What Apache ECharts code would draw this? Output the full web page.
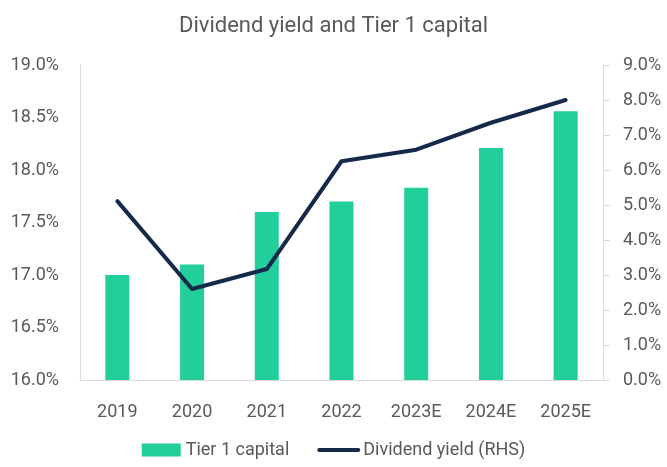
<!DOCTYPE html>
<html>
<head>
<meta charset="utf-8">
<script src="https://cdn.jsdelivr.net/npm/echarts@6/dist/echarts.min.js"></script>
<style>
  html, body { margin: 0; padding: 0; background: #fff; }
  #chart { width: 667px; height: 467px; }
</style>
</head>
<body>
<div id="chart"></div>
<script>
// data
const categories = ['2019', '2020', '2021', '2022', '2023E', '2024E', '2025E']
const tier1Capital = [17.0, 17.1, 17.6, 17.7, 17.83, 18.21, 18.56]
const dividendYield = [5.11, 2.6, 3.17, 6.25, 6.58, 7.35, 8.0]

const textColor = '#595959'
const axisColor = '#d9d9d9'
const font = 'Roboto, "Noto Sans", sans-serif'

const chart = echarts.init(document.getElementById('chart'))

const pct = v => v.toFixed(1) + '%'

chart.setOption({
  animation: false,
  backgroundColor: '#ffffff',
  textStyle: { fontFamily: font },
  title: {
    text: 'Dividend yield and Tier 1 capital',
    left: 'center',
    top: 10,
    textStyle: { color: textColor, fontSize: 22, fontWeight: 'normal', fontFamily: font }
  },
  grid: { left: 80, right: 64, top: 65, bottom: 87 },
  legend: {
    bottom: 3,
    left: 'center',
    itemWidth: 39,
    itemHeight: 13,
    itemGap: 28,
    textStyle: { color: textColor, fontSize: 18 },
    data: [
      { name: 'Tier 1 capital', icon: 'rect' },
      {
        name: 'Dividend yield (RHS)',
        itemStyle: { opacity: 0 },
        lineStyle: { width: 4, color: '#15294b', cap: 'round' }
      }
    ]
  },
  xAxis: {
    type: 'category',
    data: categories,
    axisLine: { show: true, lineStyle: { color: axisColor, width: 1 } },
    axisTick: { show: false },
    axisLabel: { color: textColor, fontSize: 18, margin: 23 }
  },
  yAxis: [
    {
      type: 'value',
      min: 16,
      max: 19,
      interval: 0.5,
      axisLine: { show: true, lineStyle: { color: axisColor } },
      axisTick: { show: false },
      splitLine: { show: false },
      axisLabel: { color: textColor, fontSize: 18, margin: 21, formatter: pct }
    },
    {
      type: 'value',
      min: 0,
      max: 9,
      interval: 1,
      position: 'right',
      axisLine: { show: true, lineStyle: { color: axisColor } },
      axisTick: { show: true, length: 7, lineStyle: { color: axisColor } },
      splitLine: { show: false },
      axisLabel: { color: textColor, fontSize: 18, margin: 20, formatter: pct }
    }
  ],
  series: [
    {
      name: 'Tier 1 capital',
      type: 'bar',
      data: tier1Capital,
      barWidth: 24,
      itemStyle: { color: '#22ce99' }
    },
    {
      name: 'Dividend yield (RHS)',
      type: 'line',
      yAxisIndex: 1,
      data: dividendYield,
      symbol: 'none',
      lineStyle: { color: '#15294b', width: 4, cap: 'round', join: 'round' },
      itemStyle: { color: '#15294b' }
    }
  ]
})
</script>
</body>
</html>
